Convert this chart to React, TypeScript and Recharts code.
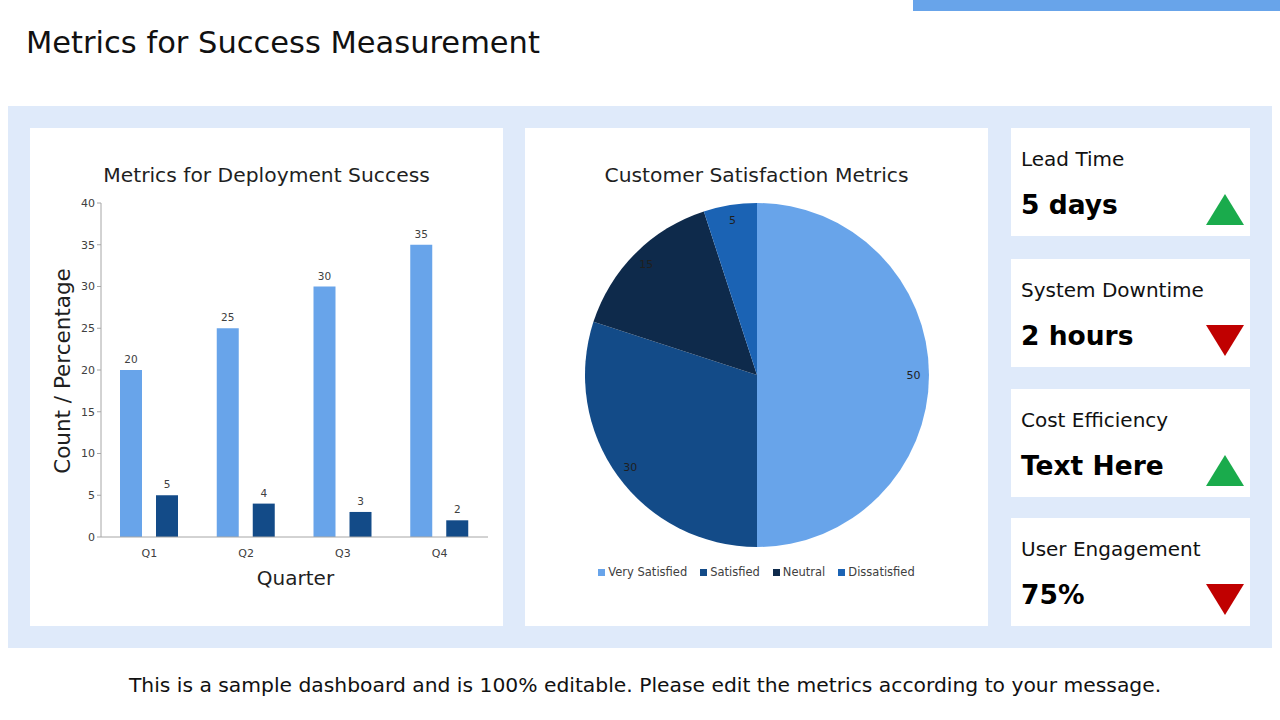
import {
  BarChart,
  Bar,
  XAxis,
  YAxis,
  LabelList,
  PieChart,
  Pie,
  Cell,
  Legend,
} from "recharts"

const quarters = ["Q1", "Q2", "Q3", "Q4"]
const deploymentsA = [20, 25, 30, 35]
const deploymentsB = [5, 4, 3, 2]
const yTicks = [0, 5, 10, 15, 20, 25, 30, 35, 40]

const satisfactionNames = ["Very Satisfied", "Satisfied", "Neutral", "Dissatisfied"]
const satisfactionValues = [50, 30, 15, 5]
const PIE_COLORS = ["#68a4ea", "#134b88", "#0e2a4b", "#1b63b4"]

const kpiLabels = ["Lead Time", "System Downtime", "Cost Efficiency", "User Engagement"]
const kpiValues = ["5 days", "2 hours", "Text Here", "75%"]
const kpiTrendUp = [true, false, true, false]

const FONT = "'DejaVu Sans', sans-serif"
const RAD = Math.PI / 180

const barData = quarters.map((q, i) => ({ name: q, a: deploymentsA[i], b: deploymentsB[i] }))
const pieData = satisfactionNames.map((name, i) => ({ name, value: satisfactionValues[i] }))

function PieLabel(props: any) {
  const { cx, cy, midAngle, outerRadius, value } = props
  const r = outerRadius * 0.91
  const x = cx + r * Math.cos(-midAngle * RAD)
  const y = cy + r * Math.sin(-midAngle * RAD)
  return (
    <text x={x} y={y} fill="#1f1f1f" fontSize={11} textAnchor="middle" dominantBaseline="central">
      {value}
    </text>
  )
}

// keep the legend in data order (recharts sorts it by name otherwise)
function PieLegend() {
  return (
    <div style={{ display: "flex", justifyContent: "center", gap: 13, fontSize: 11.5, color: "#404040" }}>
      {satisfactionNames.map((name, i) => (
        <span key={name} style={{ display: "flex", alignItems: "center" }}>
          <span style={{ width: 7, height: 7, background: PIE_COLORS[i], marginRight: 3 }} />
          {name}
        </span>
      ))}
    </div>
  )
}

function Triangle({ up }: { up: boolean }) {
  return (
    <svg width={38} height={31} style={{ position: "absolute", left: 195, top: 66 }}>
      {up ? (
        <polygon points="19,0 38,31 0,31" fill="#1aab4c" />
      ) : (
        <polygon points="0,0 38,0 19,31" fill="#c00000" />
      )}
    </svg>
  )
}

const cardTops = [128, 259, 389, 518]

export default function App() {
  return (
    <div
      style={{
        position: "absolute",
        left: 0,
        top: 0,
        width: 1280,
        height: 720,
        background: "#ffffff",
        fontFamily: FONT,
        overflow: "hidden",
      }}
    >
      <div style={{ position: "absolute", left: 913, top: 0, width: 367, height: 11, background: "#68a4ea" }} />
      <div style={{ position: "absolute", left: 26, top: 25, fontSize: 30.5, color: "#111", whiteSpace: "nowrap" }}>
        Metrics for Success Measurement
      </div>

      <div style={{ position: "absolute", left: 8, top: 106, width: 1264, height: 542, background: "#dfeafa" }} />

      {/* bar chart card */}
      <div style={{ position: "absolute", left: 30, top: 128, width: 473, height: 498, background: "#fff" }}>
        <div
          style={{
            position: "absolute",
            left: 0,
            width: 473,
            top: 35,
            textAlign: "center",
            fontSize: 20.3,
            color: "#1f1f1f",
            whiteSpace: "nowrap",
          }}
        >
          Metrics for Deployment Success
        </div>
        <BarChart
          width={473}
          height={498}
          data={barData}
          margin={{ top: 75, right: 15, bottom: 59, left: 41 }}
          barSize={22}
          barGap={14}
        >
          <XAxis
            dataKey="name"
            height={30}
            tick={{ fontSize: 11, fill: "#404040" }}
            tickMargin={6}
            axisLine={{ stroke: "#a6a6a6" }}
            tickLine={false}
          />
          <YAxis
            width={30}
            domain={[0, 40]}
            ticks={yTicks}
            tick={{ fontSize: 11, fill: "#404040" }}
            axisLine={{ stroke: "#a6a6a6" }}
            tickLine={{ stroke: "#a6a6a6" }}
            tickSize={4}
          />
          <Bar dataKey="a" fill="#68a4ea" isAnimationActive={false}>
            <LabelList dataKey="a" position="top" offset={7} style={{ fontSize: 10.5, fill: "#404040" }} />
          </Bar>
          <Bar dataKey="b" fill="#134b88" isAnimationActive={false}>
            <LabelList dataKey="b" position="top" offset={7} style={{ fontSize: 10.5, fill: "#404040" }} />
          </Bar>
        </BarChart>
        <div
          style={{
            position: "absolute",
            left: 0,
            width: 473,
            top: 438,
            paddingLeft: 58,
            boxSizing: "border-box",
            textAlign: "center",
            fontSize: 20,
            color: "#1f1f1f",
          }}
        >
          Quarter
        </div>
        <div style={{ position: "absolute", left: 32, top: 243, width: 0, height: 0 }}>
          <div
            style={{
              position: "absolute",
              transform: "translate(-50%, -50%) rotate(-90deg)",
              whiteSpace: "nowrap",
              fontSize: 21.5,
              color: "#1f1f1f",
            }}
          >
            Count / Percentage
          </div>
        </div>
      </div>

      {/* pie chart card */}
      <div style={{ position: "absolute", left: 525, top: 128, width: 463, height: 498, background: "#fff" }}>
        <div
          style={{
            position: "absolute",
            left: 0,
            width: 463,
            top: 35,
            textAlign: "center",
            fontSize: 20.3,
            color: "#1f1f1f",
            whiteSpace: "nowrap",
          }}
        >
          Customer Satisfaction Metrics
        </div>
        <PieChart width={463} height={498} margin={{ top: 0, right: 0, bottom: 0, left: 0 }}>
          <Pie
            data={pieData}
            dataKey="value"
            nameKey="name"
            cx={232}
            cy={247}
            outerRadius={172}
            startAngle={90}
            endAngle={-270}
            stroke="none"
            label={PieLabel}
            labelLine={false}
            isAnimationActive={false}
          >
            {pieData.map((_, i) => (
              <Cell key={`cell-${i}`} fill={PIE_COLORS[i]} />
            ))}
          </Pie>
          <Legend content={PieLegend} wrapperStyle={{ top: 437, left: 0, width: 463 }} />
        </PieChart>
      </div>

      {/* kpi cards */}
      {kpiLabels.map((label, i) => (
        <div
          key={label}
          style={{
            position: "absolute",
            left: 1011,
            top: cardTops[i],
            width: 239,
            height: 108,
            background: "#fff",
          }}
        >
          <div style={{ position: "absolute", left: 10, top: 19, fontSize: 20, color: "#111", whiteSpace: "nowrap" }}>
            {label}
          </div>
          <div
            style={{
              position: "absolute",
              left: 10,
              top: 61,
              fontSize: 26.5,
              fontWeight: "bold",
              color: "#000",
              whiteSpace: "nowrap",
            }}
          >
            {kpiValues[i]}
          </div>
          <Triangle up={kpiTrendUp[i]} />
        </div>
      ))}

      <div
        style={{
          position: "absolute",
          left: 0,
          width: 1290,
          top: 673,
          textAlign: "center",
          fontSize: 20.3,
          color: "#111",
          whiteSpace: "nowrap",
        }}
      >
        This is a sample dashboard and is 100% editable. Please edit the metrics according to your message.
      </div>
    </div>
  )
}
